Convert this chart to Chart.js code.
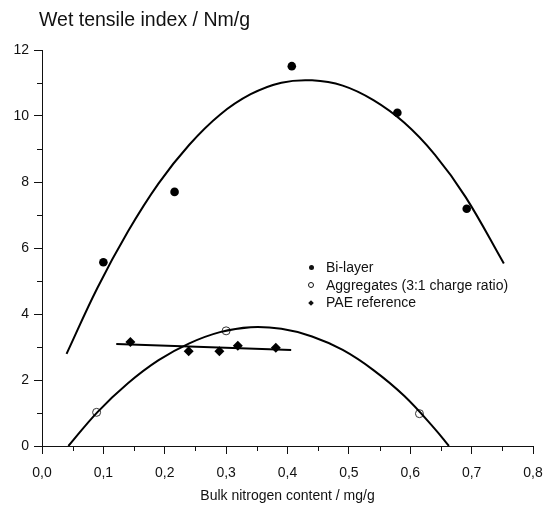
<!DOCTYPE html>
<html>
<head>
<meta charset="utf-8">
<script src="https://cdn.jsdelivr.net/npm/chart.js@4.4.0/dist/chart.umd.min.js"></script>
<style>
  body { margin: 0; background: #fff; }
  #wrap { position: relative; width: 543px; height: 505px; font-family: "Liberation Sans", Arial, sans-serif; color: #111; }
  #title { position: absolute; left: 39px; top: 10px; font-size: 19.5px; line-height: 19.5px; white-space: nowrap; }
  #legend { position: absolute; left: 307px; top: 259px; font-size: 14px; }
  #legend .row { display: flex; align-items: center; height: 17.5px; line-height: 17.5px; white-space: nowrap; }
  #legend .mark { width: 8px; display: flex; justify-content: center; margin-right: 11px; }
  .dot { width: 5px; height: 5px; border-radius: 50%; background: #111; }
  .ring { width: 4px; height: 4px; border-radius: 50%; border: 1px solid #111; }
  .diam { width: 4px; height: 4px; background: #111; transform: rotate(45deg); }
</style>
</head>
<body>
<div id="wrap">
  <canvas id="chart" width="543" height="505"></canvas>
  <div id="title">Wet tensile index / Nm/g</div>
  <div id="legend">
    <div class="row"><span class="mark"><span class="dot"></span></span>Bi-layer</div>
    <div class="row"><span class="mark"><span class="ring"></span></span>Aggregates (3:1 charge ratio)</div>
    <div class="row"><span class="mark"><span class="diam"></span></span>PAE reference</div>
  </div>
</div>
<script>
// DATA

// Bi-layer measurements
const bilayer_x = [0.100, 0.216, 0.407, 0.579, 0.692];
const bilayer_y = [5.57, 7.70, 11.51, 10.10, 7.19];

// Aggregates (3:1 charge ratio)
const agg_x = [0.089, 0.300, 0.615];
const agg_y = [1.02, 3.49, 0.98];

// PAE reference
const pae_x = [0.144, 0.239, 0.289, 0.319, 0.381];
const pae_y = [3.15, 2.87, 2.87, 3.04, 2.98];

// fitted curves
const bilayer_fit_x = [0.040, 0.09, 0.14, 0.19, 0.24, 0.29, 0.34, 0.39, 0.44, 0.49, 0.54, 0.59, 0.64, 0.69, 0.7525];
const bilayer_fit_y = [2.79, 4.78, 6.50, 7.96, 9.13, 10.04, 10.66, 11.01, 11.08, 10.92, 10.48, 9.80, 8.83, 7.55, 5.53];

const agg_fit_x = [0.043, 0.09, 0.14, 0.19, 0.24, 0.29, 0.34, 0.39, 0.44, 0.49, 0.54, 0.59, 0.64, 0.663];
const agg_fit_y = [0.00, 1.02, 1.90, 2.60, 3.11, 3.45, 3.60, 3.55, 3.32, 2.91, 2.30, 1.52, 0.52, 0.00];

const pae_fit_x = [0.121, 0.406];
const pae_fit_y = [3.09, 2.91];

// axis minor ticks
const x_minor = [0.05, 0.15, 0.25, 0.35, 0.45, 0.55, 0.65, 0.75];
const y_minor = [1, 3, 5, 7, 9, 11];

const ink = '#111';
const font_family = '"Liberation Sans", Arial, sans-serif';

function toPoints(xs, ys) {
  return xs.map((x, i) => ({ x: x, y: ys[i] }));
}

// short minor tick marks outside the axes
const minorTicks = {
  id: 'minorTicks',
  afterDraw(chart) {
    const { ctx, chartArea } = chart;
    const x = chart.scales.x, y = chart.scales.y;
    ctx.save();
    ctx.strokeStyle = ink;
    ctx.lineWidth = 1;
    ctx.beginPath();
    x_minor.forEach((v) => {
      const px = Math.round(x.getPixelForValue(v)) + 0.5;
      ctx.moveTo(px, chartArea.bottom);
      ctx.lineTo(px, chartArea.bottom + 5);
    });
    y_minor.forEach((v) => {
      const py = Math.round(y.getPixelForValue(v)) + 0.5;
      ctx.moveTo(chartArea.left, py);
      ctx.lineTo(chartArea.left - 5, py);
    });
    ctx.stroke();
    ctx.restore();
  }
};

const fitLine = {
  showLine: true,
  pointRadius: 0,
  borderColor: '#000',
  borderWidth: 2,
  tension: 0.4,
  fill: false
};

new Chart(document.getElementById('chart').getContext('2d'), {
  type: 'scatter',
  data: {
    datasets: [
      Object.assign({ label: 'Bi-layer fit', data: toPoints(bilayer_fit_x, bilayer_fit_y) }, fitLine),
      Object.assign({ label: 'Aggregates fit', data: toPoints(agg_fit_x, agg_fit_y) }, fitLine),
      Object.assign({ label: 'PAE fit', data: toPoints(pae_fit_x, pae_fit_y) }, fitLine, { tension: 0 }),
      {
        label: 'Bi-layer',
        data: toPoints(bilayer_x, bilayer_y),
        pointStyle: 'circle',
        pointRadius: 4.3,
        backgroundColor: '#000',
        borderColor: '#000',
        borderWidth: 0
      },
      {
        label: 'Aggregates (3:1 charge ratio)',
        data: toPoints(agg_x, agg_y),
        pointStyle: 'circle',
        pointRadius: 4,
        backgroundColor: 'rgba(255,255,255,0)',
        borderColor: '#333',
        borderWidth: 1
      },
      {
        label: 'PAE reference',
        data: toPoints(pae_x, pae_y),
        pointStyle: 'rectRot',
        pointRadius: 5,
        backgroundColor: '#000',
        borderColor: '#000',
        borderWidth: 0
      }
    ]
  },
  options: {
    responsive: false,
    animation: false,
    layout: { padding: { top: 50, right: 0, left: 0, bottom: 0 } },
    plugins: {
      legend: { display: false },
      tooltip: { enabled: false }
    },
    scales: {
      x: {
        type: 'linear',
        min: 0,
        max: 0.8,
        ticks: {
          stepSize: 0.1,
          padding: 11,
          color: ink,
          font: { family: font_family, size: 14 },
          callback: (v) => v.toFixed(1).replace('.', ',')
        },
        grid: { drawOnChartArea: false, drawTicks: true, tickLength: 8, color: ink },
        border: { display: true, color: ink, width: 1 },
        title: {
          display: true,
          text: 'Bulk nitrogen content / mg/g',
          color: ink,
          font: { family: font_family, size: 14 },
          padding: { top: 0, bottom: 0 }
        },
        afterFit: (scale) => {
          scale.height = 59;
          scale.paddingRight = 10;
        }
      },
      y: {
        type: 'linear',
        min: 0,
        max: 12,
        ticks: {
          stepSize: 2,
          padding: 5,
          color: ink,
          font: { family: font_family, size: 14 }
        },
        grid: { drawOnChartArea: false, drawTicks: true, tickLength: 8, color: ink },
        border: { display: true, color: ink, width: 1 },
        afterFit: (scale) => { scale.width = 42; }
      }
    }
  },
  plugins: [minorTicks]
});
</script>
</body>
</html>
